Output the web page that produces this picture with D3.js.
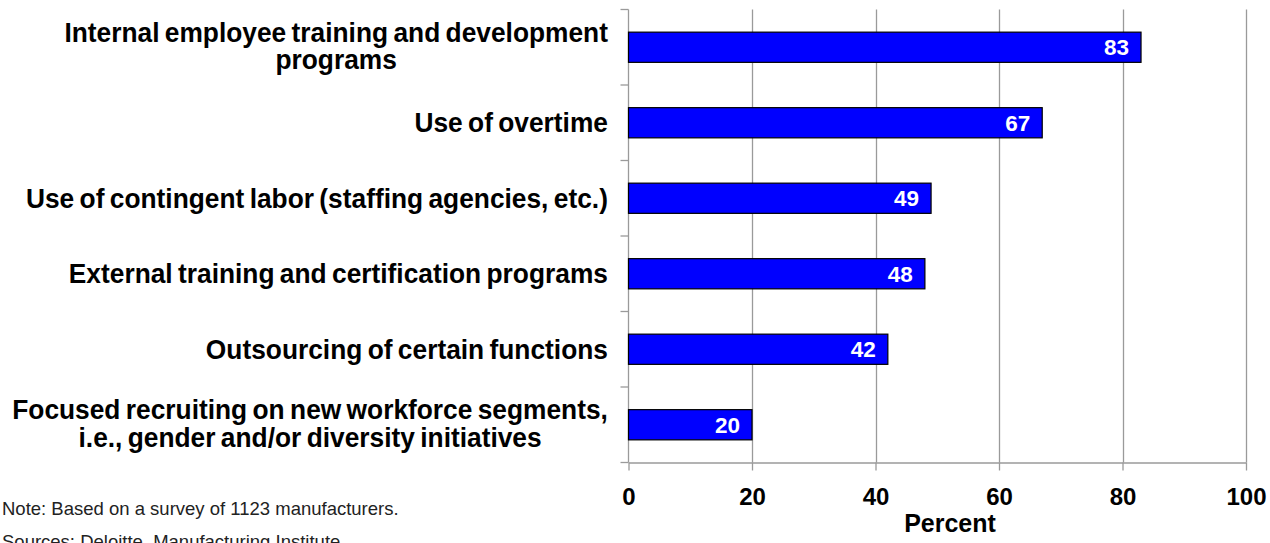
<!DOCTYPE html>
<html>
<head>
<meta charset="utf-8">
<script src="https://cdn.jsdelivr.net/npm/d3@7/dist/d3.min.js"></script>
<style>
  html, body { margin: 0; padding: 0; background: #fff; }
  svg { display: block; }
  text { font-family: Arial, "Liberation Sans", sans-serif; }
</style>
</head>
<body>
<svg id="chart" width="1270" height="543"></svg>
<script>
// Workforce strategies, share of manufacturers (%)
const categories = [
  ["Internal employee training and development", "programs"],
  ["Use of overtime"],
  ["Use of contingent labor (staffing agencies, etc.)"],
  ["External training and certification programs"],
  ["Outsourcing of certain functions"],
  ["Focused recruiting on new workforce segments,", "i.e., gender and/or diversity initiatives"]
];
const values = [83, 67, 49, 48, 42, 20];
const xTicks = [0, 20, 40, 60, 80, 100];
const xTitle = "Percent";
const notes = [
  "Note: Based on a survey of 1123 manufacturers.",
  "Sources: Deloitte, Manufacturing Institute."
];

const svg = d3.select("#chart");
const plot = { left: 628.5, right: 1246, top: 9.5, bottom: 462.5 };

const x = d3.scaleLinear().domain([0, 100]).range([plot.left, plot.right]);
const y = d3.scaleBand()
  .domain(d3.range(categories.length))
  .range([plot.top, plot.bottom])
  .paddingInner(0.6).paddingOuter(0.3);

const gridColor = "#9a9a9a";

// vertical gridlines
svg.append("g").selectAll("line")
  .data(xTicks.slice(1))
  .join("line")
  .attr("x1", d => Math.round(x(d)) + 0.5).attr("x2", d => Math.round(x(d)) + 0.5)
  .attr("y1", plot.top).attr("y2", plot.bottom)
  .attr("stroke", gridColor).attr("stroke-width", 1.3);

// x axis
const xAxis = svg.append("g")
  .attr("transform", `translate(0,${plot.bottom})`)
  .call(d3.axisBottom(x).tickValues(xTicks).tickSize(8).tickSizeOuter(0).tickPadding(17));
xAxis.select(".domain").attr("stroke", gridColor).attr("stroke-width", 1.3);
xAxis.selectAll(".tick line").attr("stroke", gridColor).attr("stroke-width", 1.3);
xAxis.selectAll(".tick text")
  .attr("font-size", 24).attr("font-weight", "bold").attr("fill", "#000")
  .attr("font-family", "Arial, 'Liberation Sans', sans-serif");

// y axis (category separators)
const yTickPos = d3.range(categories.length + 1).map(i => plot.top + i * (plot.bottom - plot.top) / categories.length);
svg.append("line")
  .attr("x1", plot.left).attr("x2", plot.left)
  .attr("y1", plot.top).attr("y2", plot.bottom)
  .attr("stroke", gridColor).attr("stroke-width", 1.3);
svg.append("g").selectAll("line")
  .data(yTickPos)
  .join("line")
  .attr("x1", plot.left - 8).attr("x2", plot.left)
  .attr("y1", d => d).attr("y2", d => d)
  .attr("stroke", gridColor).attr("stroke-width", 1.3);

// bars
svg.append("g").selectAll("rect")
  .data(values)
  .join("rect")
  .attr("x", x(0))
  .attr("y", (d, i) => y(i))
  .attr("width", d => x(d) - x(0))
  .attr("height", y.bandwidth())
  .attr("fill", "#0000ff")
  .attr("stroke", "#000")
  .attr("stroke-width", 1.2);

// value labels inside bar ends
svg.append("g").selectAll("text")
  .data(values)
  .join("text")
  .attr("x", d => x(d) - 12)
  .attr("y", (d, i) => y(i) + y.bandwidth() / 2)
  .attr("dy", "0.36em")
  .attr("text-anchor", "end")
  .attr("font-size", 22.5).attr("font-weight", "bold")
  .attr("fill", "#fff")
  .text(d => d);

// category labels: block right-aligned to the axis, lines centred within it,
// set in a slightly condensed bold face
const labelRight = 608;
const lineH = 27.5;
const squeeze = 0.975;
const catG = svg.append("g");
categories.forEach((lines, i) => {
  const cy = y(i) + y.bandwidth() / 2;
  const g = catG.append("g");
  const texts = lines.map((t, j) => g.append("text")
    .attr("font-size", 27).attr("font-weight", "bold")
    .attr("word-spacing", -2)
    .attr("fill", "#000")
    .attr("text-anchor", "middle")
    .attr("y", cy + (j - (lines.length - 1) / 2) * lineH - (lines.length - 1) * 1.5)
    .attr("dy", "0.36em")
    .text(t));
  const w = d3.max(texts, t => t.node().getComputedTextLength()) * squeeze;
  const cx = labelRight - w / 2;
  g.attr("transform", `translate(${cx},0) scale(${squeeze},1)`);
  texts.forEach(t => t.attr("x", 0));
});

// axis title
svg.append("text")
  .attr("x", 950)
  .attr("y", 532)
  .attr("text-anchor", "middle")
  .attr("font-size", 25).attr("font-weight", "bold")
  .text(xTitle);

// footnotes
svg.append("g").selectAll("text")
  .data(notes)
  .join("text")
  .attr("x", 2)
  .attr("y", (d, i) => 515 + i * 33)
  .attr("font-size", 18.5)
  .attr("fill", "#222")
  .text(d => d);
</script>
</body>
</html>
